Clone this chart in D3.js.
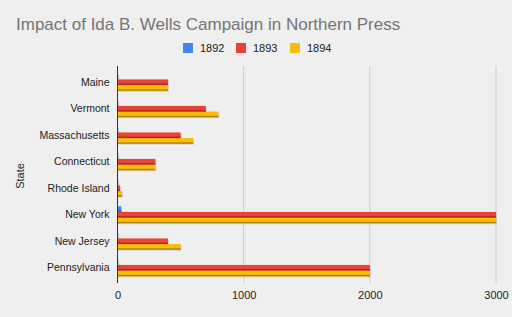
<!DOCTYPE html>
<html><head><meta charset="utf-8">
<script src="https://cdn.jsdelivr.net/npm/d3@7"></script>
<style>body{margin:0;background:#efefef;}svg{display:block;font-family:Arial,"Liberation Sans",sans-serif;}</style>
</head><body>
<svg id="c" width="512" height="317"></svg>
<script>
const states = ["Maine","Vermont","Massachusetts","Connecticut","Rhode Island","New York","New Jersey","Pennsylvania"];
const seriesNames = ["1892","1893","1894"];
const v1892 = [5,5,5,5,5,30,5,5];
const v1893 = [400,700,500,300,20,3000,400,2000];
const v1894 = [400,800,600,300,35,3000,500,2000];
const xTicks = [0,1000,2000,3000];
const colors = ["#4285f4","#ea4335","#fbbc04"];
const shadeColors = ["#2a62c0","#a8261c","#b08400"];

const svg = d3.select("#c");
const W = 512, H = 317;
svg.append("rect").attr("width",W).attr("height",H).attr("fill","#efefef");

const x = d3.scaleLinear().domain([0,3000]).range([117.5,496]);
const y = d3.scaleBand().domain(states).range([69,281]).paddingInner(0.36).paddingOuter(0.18);
const ys = d3.scaleBand().domain(seriesNames).range([0,y.bandwidth()]);

// gridlines
svg.append("g").selectAll("line").data(xTicks.slice(1)).join("line")
  .attr("x1",d=>x(d)).attr("x2",d=>x(d)).attr("y1",66).attr("y2",283)
  .attr("stroke","#cccccc").attr("stroke-width",1);

const data = [v1892,v1893,v1894];
const rows = [];
states.forEach((s,i)=>seriesNames.forEach((n,j)=>rows.push({s,n,j,v:data[j][i]})));

const g = svg.append("g");
// shadow
g.selectAll("rect.sh").data(rows).join("rect").attr("class","sh")
  .attr("x",x(0)).attr("y",d=>y(d.s)+ys(d.n)+1)
  .attr("width",d=>Math.max(0,x(d.v)-x(0))+1).attr("height",ys.bandwidth())
  .attr("fill","#000").attr("opacity",0.12);
g.selectAll("rect.b").data(rows).join("rect").attr("class","b")
  .attr("x",x(0)).attr("y",d=>y(d.s)+ys(d.n))
  .attr("width",d=>Math.max(0,x(d.v)-x(0))).attr("height",ys.bandwidth())
  .attr("fill",d=>colors[d.j]);
g.selectAll("rect.d").data(rows).join("rect").attr("class","d")
  .attr("x",x(0)).attr("y",d=>y(d.s)+ys(d.n)+ys.bandwidth()-1.4)
  .attr("width",d=>Math.max(0,x(d.v)-x(0))).attr("height",1.4)
  .attr("fill",d=>shadeColors[d.j]);

// baseline
svg.append("line").attr("x1",x(0)).attr("x2",x(0)).attr("y1",66).attr("y2",283)
  .attr("stroke","#333").attr("stroke-width",1);

// x axis labels
const xa = svg.append("g").attr("transform","translate(0,283)")
  .call(d3.axisBottom(x).tickValues(xTicks).tickSize(0).tickPadding(8).tickFormat(d3.format("d")));
xa.select(".domain").remove();
xa.selectAll("text").attr("font-size",11).attr("fill","#222").attr("font-family","Arial,'Liberation Sans',sans-serif");

// y axis labels
const ya = svg.append("g").attr("transform",`translate(${x(0)},0)`)
  .call(d3.axisLeft(y).tickSize(0).tickPadding(8));
ya.select(".domain").remove();
ya.selectAll("text").attr("font-size",10.5).attr("fill","#222").attr("font-family","Arial,'Liberation Sans',sans-serif");

// axis title
svg.append("text").attr("transform","translate(24,176) rotate(-90)")
  .attr("text-anchor","middle").attr("font-size",11).attr("fill","#222").text("State");

// title
svg.append("text").attr("x",16).attr("y",30).attr("font-size",17).attr("fill","#757575")
  .text("Impact of Ida B. Wells Campaign in Northern Press");

// legend
const legX = [183,236,290];
const lg = svg.append("g");
seriesNames.forEach((n,i)=>{
  lg.append("rect").attr("x",legX[i]).attr("y",43).attr("width",10).attr("height",10).attr("fill",colors[i]);
  lg.append("text").attr("x",legX[i]+17).attr("y",52).attr("font-size",11).attr("fill","#222").text(n);
});
</script>
</body></html>
